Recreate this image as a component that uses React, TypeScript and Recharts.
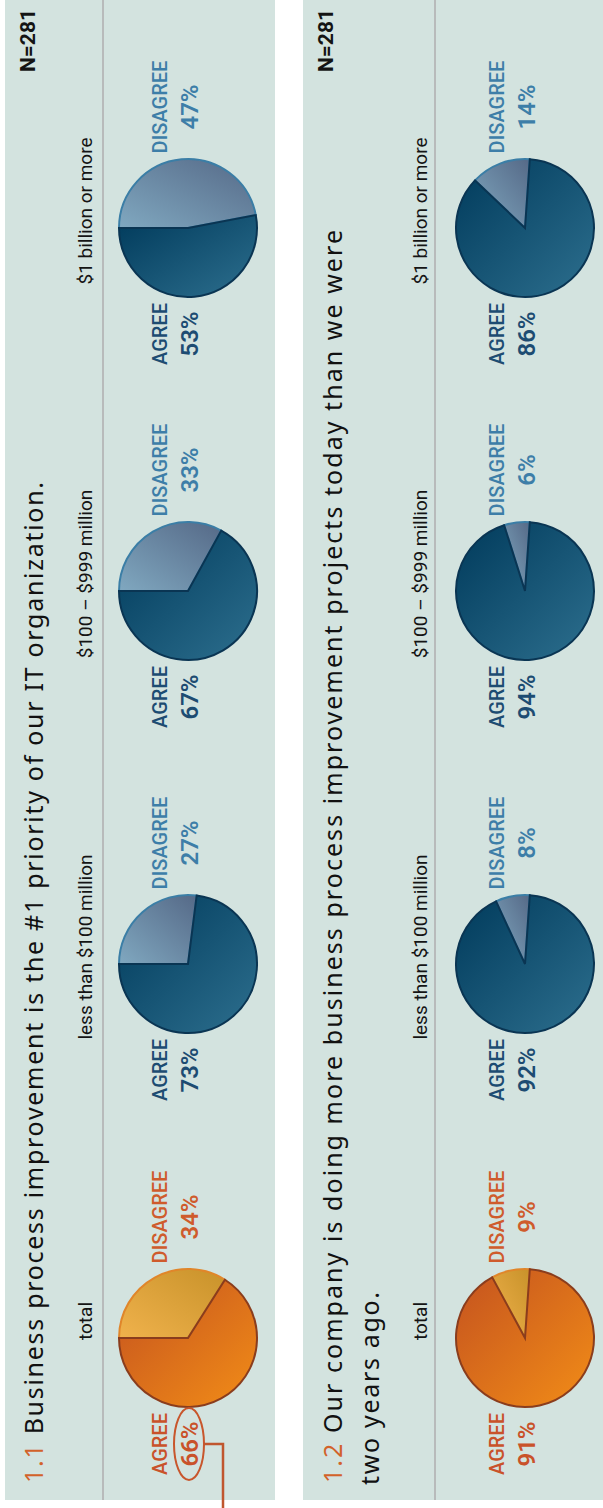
import React from "react";
import { Cell, Pie, PieChart } from "recharts";

const segments = ["total", "less than $100 million", "$100 – $999 million", "$1 billion or more"];
const q1Agree = [66, 73, 67, 53];
const q1Disagree = [34, 27, 33, 47];
const q2Agree = [91, 92, 94, 86];
const q2Disagree = [9, 8, 6, 14];
const sliceNames = ["DISAGREE", "AGREE"];
const q1Title = "Business process improvement is the #1 priority of our IT organization.";
const q2Title = [
  "Our company is doing more business process improvement projects today than we were",
  "two years ago.",
];
const sampleSize = "N=281";

const FONT = "Roboto, 'Noto Sans', sans-serif";
const TITLE_FONT = "'Noto Sans', Roboto, sans-serif";
const W = 1508;
const H = 603;
const BOX_W = 400;
const BOX_H = 200;
const R = 69;
const slotCenters = [170, 544, 917, 1280];

type Palette = {
  agree: [string, string];
  disagree: [string, string];
  agreeStroke: string;
  disagreeStroke: string;
  agreeText: string;
  disagreeText: string;
};

const orange: Palette = {
  agree: ["#c4521f", "#f28d17"],
  disagree: ["#c8922a", "#f0b24c"],
  agreeStroke: "#8a3d1d",
  disagreeStroke: "#e0862a",
  agreeText: "#c9522a",
  disagreeText: "#cf5b2c",
};

const blue: Palette = {
  agree: ["#003a5b", "#2d6f8e"],
  disagree: ["#556987", "#80a8c0"],
  agreeStroke: "#0a3553",
  disagreeStroke: "#3b7ea6",
  agreeText: "#1d4c72",
  disagreeText: "#3d7ea8",
};

function MiniPie({
  agree,
  disagree,
  palette,
  uid,
  centerU,
  centerV,
  startAngle,
  endAngle,
  highlight,
}: {
  agree: number;
  disagree: number;
  palette: Palette;
  uid: string;
  centerU: number;
  centerV: number;
  startAngle: number;
  endAngle: number;
  highlight?: boolean;
}) {
  const data = [
    { name: sliceNames[0], value: disagree },
    { name: sliceNames[1], value: agree },
  ];

  const renderLabel = (p: any) => {
    const { cx, cy, outerRadius, index, value } = p;
    const isAgree = index === 1;
    const x = isAgree ? cx - outerRadius - 37 : cx + outerRadius + 52;
    const color = isAgree ? palette.agreeText : palette.disagreeText;
    return (
      <g key={`lbl-${index}`}>
        <text x={x} y={cy - 21} textAnchor="middle" fill={color} fontFamily={FONT} fontSize={20} fontWeight={500}>
          {sliceNames[index]}
        </text>
        <text x={x} y={cy + 10} textAnchor="middle" fill={color} fontFamily={FONT} fontSize={24} fontWeight={600}>
          {value}%
        </text>
        {highlight && isAgree ? (
          <g>
            <ellipse cx={x} cy={cy + 1} rx={36} ry={15} fill="none" stroke="#c8562c" strokeWidth={2} />
            <polyline
              points={`${x},${cy + 16} ${x},${cy + 35} ${x - 90},${cy + 35}`}
              fill="none"
              stroke="#c0562e"
              strokeWidth={2.5}
            />
          </g>
        ) : null}
      </g>
    );
  };

  return (
    <div style={{ position: "absolute", left: centerU - BOX_W / 2, top: centerV - BOX_H / 2 }}>
      <PieChart width={BOX_W} height={BOX_H} margin={{ top: 0, right: 0, bottom: 0, left: 0 }} style={{ overflow: "visible" }}>
        <defs>
          <linearGradient id={`${uid}-a`} x1="1" y1="0" x2="0" y2="1">
            <stop offset="0%" stopColor={palette.agree[0]} />
            <stop offset="100%" stopColor={palette.agree[1]} />
          </linearGradient>
          <linearGradient id={`${uid}-d`} x1="1" y1="1" x2="0" y2="0">
            <stop offset="0%" stopColor={palette.disagree[0]} />
            <stop offset="100%" stopColor={palette.disagree[1]} />
          </linearGradient>
        </defs>
        <Pie
          data={data}
          dataKey="value"
          cx={BOX_W / 2}
          cy={BOX_H / 2}
          innerRadius={0}
          outerRadius={R}
          startAngle={startAngle}
          endAngle={endAngle}
          label={renderLabel}
          labelLine={false}
          isAnimationActive={false}
        >
          <Cell fill={`url(#${uid}-d)`} stroke={palette.disagreeStroke} strokeWidth={2} />
          <Cell fill={`url(#${uid}-a)`} stroke={palette.agreeStroke} strokeWidth={2} />
        </Pie>
      </PieChart>
    </div>
  );
}

function Backdrop() {
  return (
    <svg width={W} height={H} style={{ position: "absolute", left: 0, top: 0 }}>
      <rect x={8} y={5} width={1500} height={270} fill="#d3e3df" />
      <rect x={8} y={303} width={1500} height={300} fill="#d3e3df" />
      <line x1={8} x2={W} y1={103} y2={103} stroke="#b8bbbb" strokeWidth={2} />
      <line x1={8} x2={W} y1={435} y2={435} stroke="#b8bbbb" strokeWidth={2} />

      <text x={25} y={43} fontFamily={TITLE_FONT} fontSize={25} fill="#111" textLength={1001} lengthAdjust="spacing">
        <tspan fill="#d2622a">1.1</tspan> {q1Title}
      </text>
      <text x={25} y={342} fontFamily={TITLE_FONT} fontSize={25} fill="#111" textLength={1253} lengthAdjust="spacing">
        <tspan fill="#d2622a">1.2</tspan> {q2Title[0]}
      </text>
      <text x={23} y={379} fontFamily={TITLE_FONT} fontSize={25} fill="#111" textLength={193} lengthAdjust="spacing">
        {q2Title[1]}
      </text>

      <text x={1499} y={35} textAnchor="end" fontFamily={FONT} fontSize={21} fontWeight={700} fill="#141414">
        {sampleSize}
      </text>
      <text x={1499} y={333} textAnchor="end" fontFamily={FONT} fontSize={21} fontWeight={700} fill="#141414">
        {sampleSize}
      </text>

      {segments.map((s, i) => (
        <g key={s}>
          <text x={slotCenters[i] + 17} y={92} textAnchor="middle" fontFamily={FONT} fontSize={19} fill="#141414">
            {s}
          </text>
          <text x={slotCenters[i] + 17} y={427} textAnchor="middle" fontFamily={FONT} fontSize={19} fill="#141414">
            {s}
          </text>
        </g>
      ))}
    </svg>
  );
}

export default function App() {
  return (
    <div style={{ position: "absolute", left: 0, top: 0, width: H, height: W, overflow: "hidden", background: "#ffffff" }}>
      <div
        style={{
          position: "absolute",
          left: 0,
          top: 0,
          width: W,
          height: H,
          transformOrigin: "0 0",
          transform: `translate(0px, ${W}px) rotate(-90deg)`,
        }}
      >
        <Backdrop />
        {segments.map((s, i) => (
          <MiniPie
            key={`q1-${s}`}
            uid={`q1-${i}`}
            agree={q1Agree[i]}
            disagree={q1Disagree[i]}
            palette={i === 0 ? orange : blue}
            centerU={slotCenters[i]}
            centerV={188}
            startAngle={90}
            endAngle={-270}
            highlight={i === 0}
          />
        ))}
        {segments.map((s, i) => (
          <MiniPie
            key={`q2-${s}`}
            uid={`q2-${i}`}
            agree={q2Agree[i]}
            disagree={q2Disagree[i]}
            palette={i === 0 ? orange : blue}
            centerU={slotCenters[i]}
            centerV={525}
            startAngle={-4}
            endAngle={356}
          />
        ))}
      </div>
    </div>
  );
}
